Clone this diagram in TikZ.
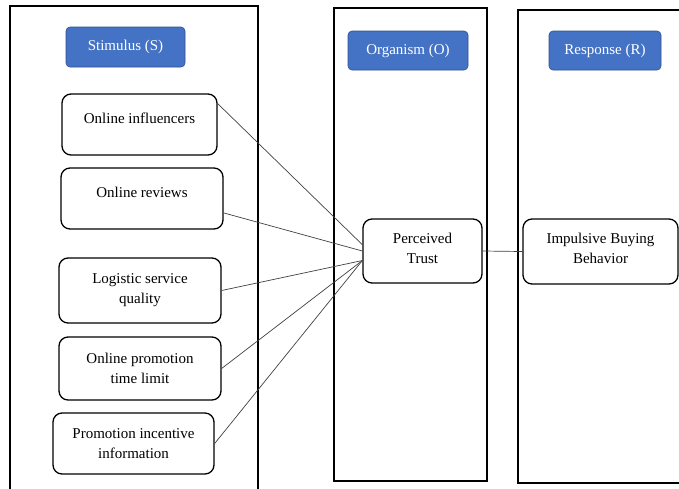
\documentclass[tikz,border=0pt]{standalone}
\usepackage{fontspec}
\setmainfont{Liberation Serif}
\definecolor{headblue}{HTML}{4472C4}
\definecolor{headedge}{HTML}{2F528F}

\begin{document}
\begin{tikzpicture}[x=1pt, y=-1pt,
    frame/.style ={draw, line width=1.2pt},
    header/.style ={rectangle, rounded corners=4pt, fill=headblue, draw=headedge, line width=0.6pt, text=white, inner sep=0pt, font=\fontsize{15}{20}\selectfont},
    factor/.style ={rectangle, rounded corners=9pt, draw, line width=1.3pt, inner sep=0pt, align=center, font=\fontsize{15}{20}\selectfont},
    link/.style ={draw=black!75, line width=0.7pt}]
   \useasboundingbox (0,0) rectangle (679,488);
   \clip (0,0) rectangle (679,488);

   % the three panels
   \draw[frame] (10,6) rectangle (258,495);
   \draw[frame] (334,8) rectangle (487,481);
   \draw[frame] (518,10) rectangle (690,483);

   \node[header, minimum width=119pt, minimum height=40pt] (S)  at (125.5,47)  {Stimulus (S)};
   \node[header, minimum width=120pt, minimum height=39pt] (O)  at (408,50.5)  {Organism (O)};
   \node[header, minimum width=112pt, minimum height=39pt] (R)  at (605,50.5)  {Response (R)};

   \node[factor, minimum width=155pt, minimum height=61pt] (inf)  at (139.5,124.5)  {Online influencers\\[-8pt]};
   \node[factor, minimum width=162pt, minimum height=61pt] (rev)  at (142,198.5)  {Online reviews\\[-7pt]};
   \node[factor, minimum width=162pt, minimum height=65pt] (log)  at (140,290.5)  {Logistic service\\quality};
   \node[factor, minimum width=162pt, minimum height=63pt] (lim)  at (140,368.5)  {Online promotion\\time limit};
   \node[factor, minimum width=161pt, minimum height=61pt] (inc)  at (133.5,443.5)  {Promotion incentive\\information};

   \node[factor, minimum width=119pt, minimum height=64pt] (trust)  at (422.5,251)  {Perceived\\Trust\\[-14pt]};
   \node[factor, minimum width=155pt, minimum height=65pt] (buy)  at (600.5,251.5)  {Impulsive Buying\\Behavior\\[-14pt]};

   \draw[link] (inf.15) to  (trust.174);
   \draw[link] (rev.-10) to  (trust.west);
   \draw[link] (log.east) to  (trust.189);
   \draw[link] (lim.east) to  (trust.189);
   \draw[link] (inc.east) to  (trust.189);
   \draw[link] (trust.east) to  (buy.west);
 \end{tikzpicture}
\end{document}
